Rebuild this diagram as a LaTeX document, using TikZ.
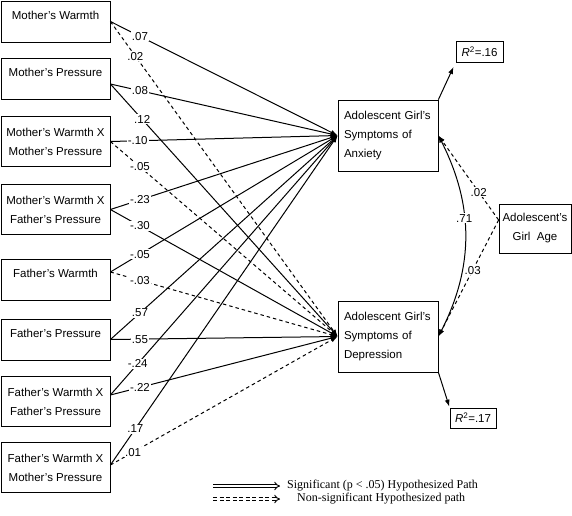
\documentclass[tikz,border=0pt]{standalone}
\usepackage{fontspec}
\setmainfont{Liberation Sans}
\newfontfamily\legendfont{Liberation Serif}
\usetikzlibrary{arrows.meta}

\begin{document}
\begin{tikzpicture}[
    x=1pt, y=-1pt,
    font=\fontsize{11.5}{19}\selectfont,
    box/.style={draw, line width=0.8pt, align=center, inner sep=0pt},
    pbox/.style={box, minimum width=109pt},
    one/.style={minimum height=41pt},
    two/.style={minimum height=50pt},
    obox/.style={draw, line width=0.8pt, minimum width=100pt, minimum height=71pt, text width=88pt, inner xsep=6pt, align=left},
    sig/.style={-{Latex[length=7pt,width=5pt]}, line width=1pt},
    nsig/.style={sig, dash pattern=on 3.5pt off 3pt},
    cov/.style={sig, {Latex[length=7pt,width=5pt]}-{Latex[length=7pt,width=5pt]}},
    coef/.style={fill=white, inner sep=1pt, font=\fontsize{11.5}{13}\selectfont},
    legtext/.style={anchor=west, inner sep=0pt, font=\legendfont\fontsize{12}{14}\selectfont},
    legarrow/.style={line width=0.9pt, double, double distance=2pt, -{Implies[scale=1.6]}}
]
    \useasboundingbox (0,0) rectangle (572,515);

    % Predictors
    \node[pbox, one] (mw) at (55.5,21.5) {Mother's Warmth\\[-6pt]\mbox{}};
    \node[pbox, one] (mp) at (55.5,79) {Mother's Pressure\\[-6pt]\mbox{}};
    \node[pbox, two] (mwmp) at (55.5,141.5) {Mother's Warmth X\\Mother's Pressure};
    \node[pbox, two] (mwfp) at (55.5,209.5) {Mother's Warmth X\\Father's Pressure};
    \node[pbox, one] (fw) at (55.5,279.5) {Father's Warmth\\[-6pt]\mbox{}};
    \node[pbox, one] (fp) at (55.5,339.5) {Father's Pressure\\[-6pt]\mbox{}};
    \node[pbox, two] (fwfp) at (55.5,401.5) {Father's Warmth X\\Father's Pressure};
    \node[pbox, two] (fwmp) at (55.5,467.5) {Father's Warmth X\\Mother's Pressure};

    % Outcomes
    \node[obox] (anx) at (388,135.5) {Adolescent Girl's\\Symptoms of\\Anxiety};
    \node[obox] (dep) at (388,336.5) {Adolescent Girl's\\Symptoms of\\Depression};

    % Control and explained variance
    \node[box, minimum width=72pt, minimum height=49pt] (age) at (535,228.5) {Adolescent's\\Girl\ \ Age};
    \node[box, minimum width=47pt, minimum height=21pt] (rsqa) at (479.5,51.5) {\textit{R}\textsuperscript{2}=.16};
    \node[box, minimum width=46pt, minimum height=20pt] (rsqd) at (473,418) {\textit{R}\textsuperscript{2}=.17};

    % Paths
    \draw[sig] (mw.east) -- coordinate[pos=.13] (c1) (anx.west);
    \draw[nsig] (mw.east) -- coordinate[pos=.11] (c2) (dep.west);
    \draw[sig] ([yshift=-5pt]mp.east) -- coordinate[pos=.13] (c3) (anx.west);
    \draw[sig] ([yshift=-5pt]mp.east) -- coordinate[pos=.14] (c4) (dep.west);
    \draw[sig] (mwmp.east) -- coordinate[pos=.12] (c5) (anx.west);
    \draw[nsig] (mwmp.east) -- coordinate[pos=.13] (c6) (dep.west);
    \draw[sig] (mwfp.east) -- coordinate[pos=.13] (c7) (anx.west);
    \draw[sig] (mwfp.east) -- coordinate[pos=.13] (c8) (dep.west);
    \draw[sig] ([yshift=7.5pt]fw.east) -- coordinate[pos=.13] (c9) (anx.west);
    \draw[nsig] ([yshift=7.5pt]fw.east) -- coordinate[pos=.13] (c10) (dep.west);
    \draw[sig] (fp.east) -- coordinate[pos=.13] (c11) (anx.west);
    \draw[sig] (fp.east) -- coordinate[pos=.13] (c12) (dep.west);
    \draw[sig] ([yshift=6.5pt]fwfp.east) -- coordinate[pos=.12] (c13) (anx.west);
    \draw[sig] ([yshift=6.5pt]fwfp.east) -- coordinate[pos=.13] (c14) (dep.west);
    \draw[sig] ([yshift=2.5pt]fwmp.east) -- coordinate[pos=.11] (c15) (anx.west);
    \draw[nsig] ([yshift=2.5pt]fwmp.east) -- coordinate[pos=.10] (c16) (dep.west);

    \draw[nsig] ([yshift=8.5pt]age.west) -- coordinate[pos=.33] (c17) (anx.east);
    \draw[nsig] ([yshift=8.5pt]age.west) -- coordinate[pos=.43] (c18) (dep.east);
    \draw[cov] (anx.east) to[bend left=27] coordinate[pos=.41] (c19) (dep.east);

    \draw[sig, shorten >=5pt] (anx.north east) -- (rsqa.south west);
    \draw[sig, shorten >=1pt] (dep.south east) -- (rsqd.north west);

    % Coefficients
    \node[coef] at (c1) {.07};
    \node[coef] at (c2) {.02};
    \node[coef] at (c3) {.08};
    \node[coef] at (c4) {.12};
    \node[coef] at (c5) {-.10};
    \node[coef] at (c6) {-.05};
    \node[coef] at (c7) {-.23};
    \node[coef] at (c8) {-.30};
    \node[coef] at (c9) {-.05};
    \node[coef] at (c10) {-.03};
    \node[coef] at (c11) {.57};
    \node[coef] at (c12) {.55};
    \node[coef] at (c13) {-.24};
    \node[coef] at (c14) {-.22};
    \node[coef] at (c15) {.17};
    \node[coef] at (c16) {.01};
    \node[coef] at (c17) {.02};
    \node[coef] at (c18) {.03};
    \node[coef] at (c19) {.71};

    % Legend
    \node[legtext] (lsig) at (287,486) {Significant (p < .05) Hypothesized Path};
    \node[legtext] (lnsig) at (297,499) {Non-significant Hypothesized path};
    \coordinate (lsigs) at (213,486);
    \coordinate (lnsigs) at (213,499);
    \draw[legarrow, shorten >=7pt] (lsigs) -- (lsig.west);
    \draw[legarrow, dash pattern=on 4pt off 2.5pt, shorten >=17pt] (lnsigs) -- (lnsig.west);
\end{tikzpicture}
\end{document}
